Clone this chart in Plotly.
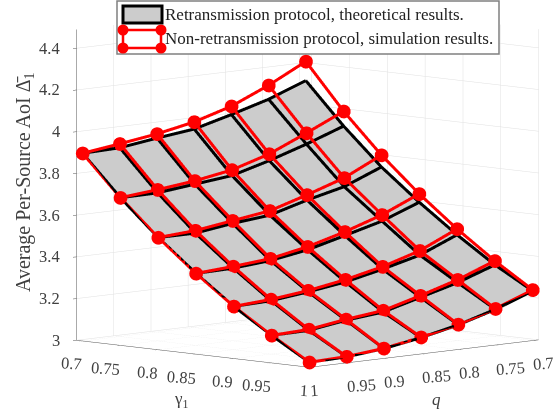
import plotly.graph_objects as go

gamma = [0.7, 0.75, 0.8, 0.85, 0.9, 0.95, 1.0]
q = [1.0, 0.95, 0.9, 0.85, 0.8, 0.75, 0.7]

# rows follow gamma, columns follow q
retrans = [
    [3.900, 3.905, 3.930, 3.952, 4.000, 4.052, 4.120],
    [3.708, 3.710, 3.730, 3.750, 3.800, 3.858, 3.923],
    [3.538, 3.538, 3.563, 3.581, 3.632, 3.675, 3.748],
    [3.387, 3.391, 3.406, 3.436, 3.483, 3.531, 3.600],
    [3.250, 3.256, 3.277, 3.303, 3.343, 3.389, 3.465],
    [3.132, 3.135, 3.162, 3.180, 3.229, 3.278, 3.342],
    [3.024, 3.029, 3.047, 3.078, 3.118, 3.171, 3.238],
]
nonretrans = [
    [3.900, 3.924, 3.950, 3.986, 4.040, 4.119, 4.212],
    [3.708, 3.725, 3.746, 3.777, 3.832, 3.911, 3.994],
    [3.538, 3.550, 3.576, 3.602, 3.657, 3.717, 3.805],
    [3.387, 3.399, 3.415, 3.451, 3.501, 3.561, 3.640],
    [3.250, 3.262, 3.283, 3.314, 3.355, 3.410, 3.493],
    [3.132, 3.139, 3.166, 3.187, 3.237, 3.292, 3.361],
    [3.024, 3.030, 3.048, 3.080, 3.120, 3.174, 3.243],
]
gamma_ticks = [0.7, 0.75, 0.8, 0.85, 0.9, 0.95, 1]
gamma_labels = ["0.7", "0.75", "0.8", "0.85", "0.9", "0.95", "1"]
z_ticks = [3, 3.2, 3.4, 3.6, 3.8, 4, 4.2, 4.4]
z_labels = ["3", "3.2", "3.4", "3.6", "3.8", "4", "4.2", "4.4"]

FONT = "Liberation Serif"
TICK = "#404040"
SCALE = 1.567
Z_SCALE = 1.501
CX, CY, CZ = -0.102, -0.102, -0.115
EYE = (1.24, -1.26, 0.21)
X_RANGE, Y_RANGE, Z_RANGE = [0.692, 1], [1, 0.692], [3, 4.49]


def depth_offset(d):
    """Data-space push away from the viewer: same place on screen, behind the layer above."""
    norm = sum(e * e for e in EYE) ** 0.5
    return (-d * EYE[0] / norm * (X_RANGE[1] - X_RANGE[0]) / SCALE,
            -d * EYE[1] / norm * (Y_RANGE[1] - Y_RANGE[0]) / SCALE,
            -d * EYE[2] / norm * (Z_RANGE[1] - Z_RANGE[0]) / Z_SCALE)


fig = go.Figure()
sx, sy, sz = depth_offset(0.04)
fig.add_trace(go.Surface(x=[g + sx for g in gamma], y=[v + sy for v in q],
                         z=[[retrans[i][j] + sz for i in range(7)] for j in range(7)],
                         showscale=False, colorscale=[[0, "#cccccc"], [1, "#cccccc"]],
                         lighting=dict(ambient=1, diffuse=0, specular=0, fresnel=0),
                         hoverinfo="skip"))


def line(xs, ys, zs, color, mode):
    return go.Scatter3d(x=xs, y=ys, z=zs, mode=mode,
                        line=dict(color=color, width=6),
                        marker=dict(color=color, size=8),
                        showlegend=False, hoverinfo="skip")


n = len(gamma)
bx, by, bz = depth_offset(0.02)
g_black = [g + bx for g in gamma]
q_black = [v + by for v in q]
for i in range(n):
    fig.add_trace(line([g_black[i]] * n, q_black, [v + bz for v in retrans[i]], "black", "lines"))
for j in range(n):
    fig.add_trace(line(g_black, [q_black[j]] * n, [retrans[i][j] + bz for i in range(n)], "black", "lines"))
for i in range(n):
    fig.add_trace(line([gamma[i]] * n, q, nonretrans[i], "#ff0000", "lines+markers"))
for j in range(n):
    fig.add_trace(line(gamma, [q[j]] * n, [nonretrans[i][j] for i in range(n)], "#ff0000", "lines+markers"))


def axis(ticks, rng):
    return dict(range=rng, tickvals=ticks, showticklabels=False, showbackground=False,
                gridcolor="#e0e0e0", gridwidth=1, zeroline=False, showline=True,
                linecolor="#555555", linewidth=1, ticks="outside", ticklen=5,
                tickcolor="#555555", title=dict(text=""), showspikes=False)


def label(text, x, y, z, xs, ys, size=16.5, anchor="center", angle=0):
    return dict(text=text, x=x, y=y, z=z, xshift=xs, yshift=ys, xanchor=anchor, yanchor="middle",
                showarrow=False, textangle=angle, font=dict(family=FONT, size=size, color=TICK))


scene_labels = []
for t, s in zip(gamma_ticks, gamma_labels):
    short = len(s) < 4
    scene_labels.append(label(s, t, 1, 3, -5 if s == "1" else (-11 if short else -15), -23, angle=4))
for t, s in zip(gamma_ticks, gamma_labels):
    short = len(s) < 4
    scene_labels.append(label(s, 1, t, 3, 5 if s == "1" else (11 if short else 15), -23, angle=-4))
for t, s in zip(z_ticks, z_labels):
    scene_labels.append(label(s, 0.692, 1, t, -15, 0, anchor="right"))
scene_labels.append(label("γ<sub>1</sub>", 0.85, 1, 3, -15, -46, size=17))
scene_labels.append(label("<i>q</i>", 1, 0.85, 3, 15, -46, size=17))

P = lambda px: px / 555
R = lambda py: 1 - py / 417


def circle(cx, cy, r=5.5):
    return dict(type="circle", xref="paper", yref="paper", x0=P(cx - r), x1=P(cx + r), y0=R(cy + r), y1=R(cy - r),
                fillcolor="#ff0000", line=dict(color="#ff0000", width=0))


fig.update_layout(
    width=555, height=417, margin=dict(l=0, r=0, t=0, b=0),
    paper_bgcolor="white", showlegend=False,
    scene=dict(
        domain=dict(x=[0, 1], y=[0, 1]),
        xaxis=axis(gamma_ticks, X_RANGE),
        yaxis=axis(gamma_ticks, Y_RANGE),
        zaxis=axis(z_ticks, Z_RANGE),
        aspectmode="manual", aspectratio=dict(x=SCALE, y=SCALE, z=Z_SCALE),
        camera=dict(projection=dict(type="orthographic"),
                    eye=dict(x=EYE[0] + CX, y=EYE[1] + CY, z=EYE[2] + CZ),
                    center=dict(x=CX, y=CY, z=CZ),
                    up=dict(x=0, y=0, z=1)),
        annotations=scene_labels,
    ),
    shapes=[
        dict(type="rect", xref="paper", yref="paper", x0=P(117), x1=P(499), y0=R(54), y1=R(1),
             fillcolor="white", line=dict(color="#808080", width=1.5)),
        dict(type="rect", xref="paper", yref="paper", x0=P(123), x1=P(162), y0=R(23), y1=R(6),
             fillcolor="#cccccc", line=dict(color="black", width=3)),
        dict(type="rect", xref="paper", yref="paper", x0=P(123), x1=P(161), y0=R(48), y1=R(30),
             fillcolor="white", line=dict(color="#ff0000", width=2.5)),
        circle(123, 30), circle(161, 30), circle(123, 48), circle(161, 48),
    ],
    annotations=[
        dict(text="Retransmission protocol, theoretical results.", x=P(163), y=R(14), xref="paper", yref="paper",
             xanchor="left", yanchor="middle", showarrow=False, font=dict(family=FONT, size=17, color="#222222")),
        dict(text="Non-retransmission protocol, simulation results.", x=P(163), y=R(39), xref="paper", yref="paper",
             xanchor="left", yanchor="middle", showarrow=False, font=dict(family=FONT, size=17, color="#222222")),
        dict(text="Average Per-Source AoI Δ\u0304<sub>1</sub>", x=P(25), y=R(182), xref="paper", yref="paper",
             textangle=-90, xanchor="center", yanchor="middle", showarrow=False,
             font=dict(family=FONT, size=20, color=TICK)),
    ],
)
fig.write_html("out.html", config={"displayModeBar": False},
               post_script="document.body.style.margin='0';")
